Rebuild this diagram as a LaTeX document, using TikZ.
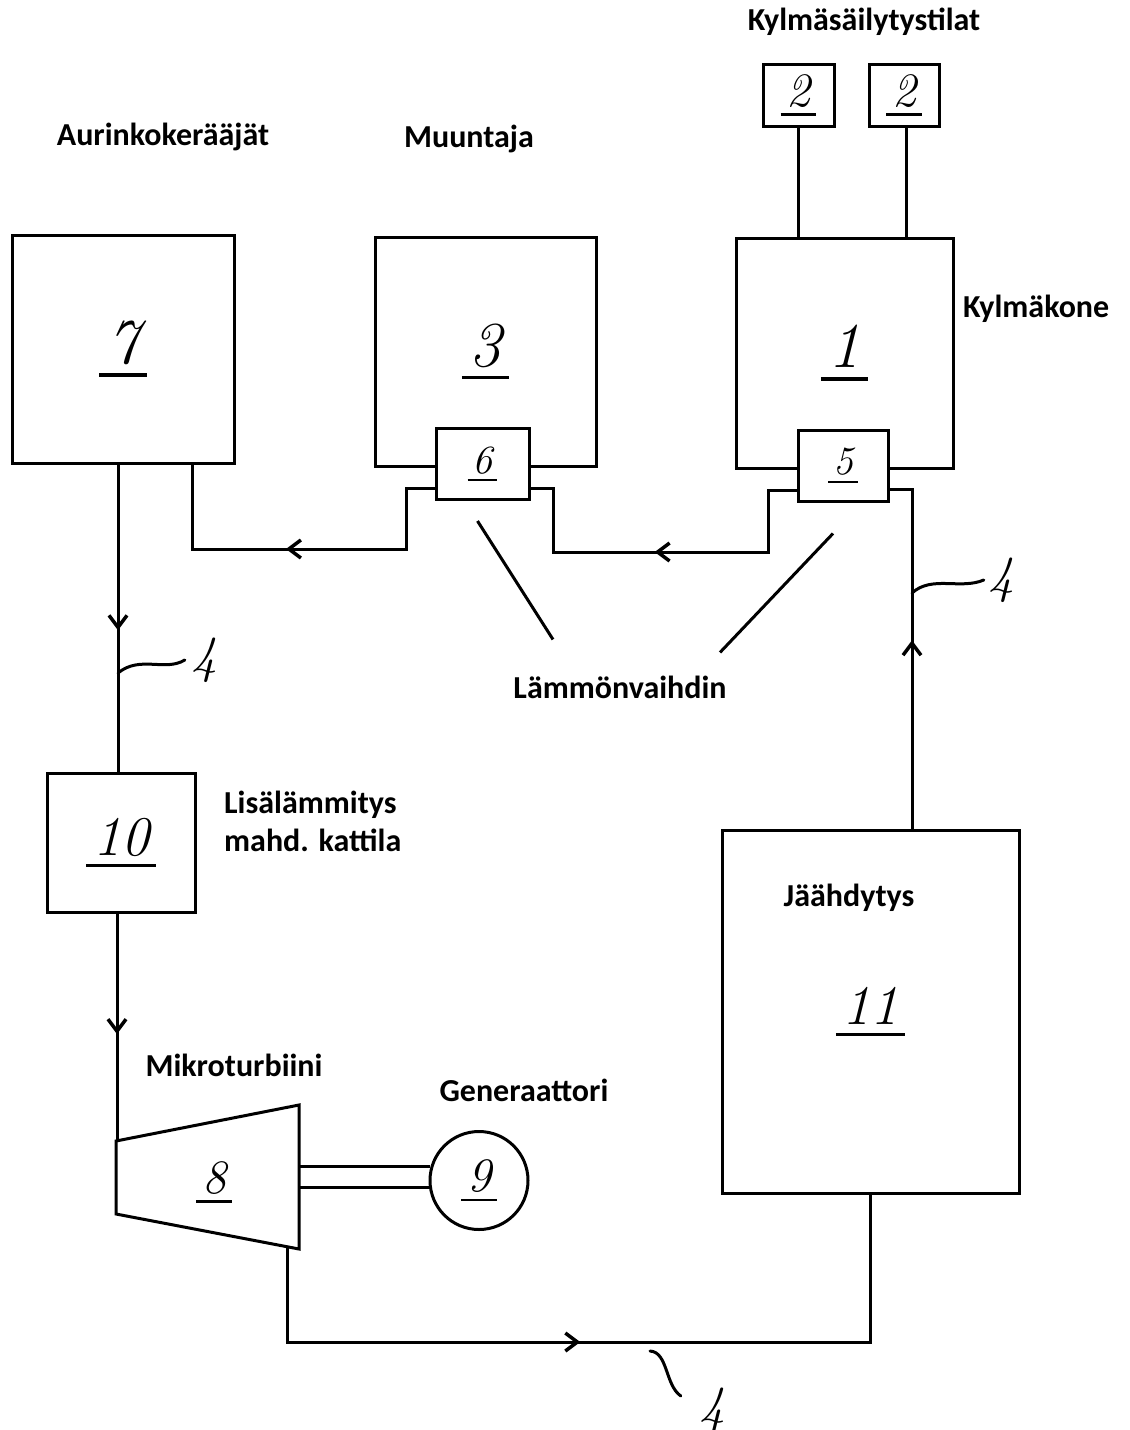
\documentclass[tikz,border=0pt]{standalone}
\usepackage{fontspec}
\newfontfamily\labelfont{Carlito}
\usetikzlibrary{arrows.meta,decorations.markings}
\newcommand{\nro}[2]{\fontsize{#1}{#1}\selectfont\itshape\sbox0{#2}%
\rlap{\hspace{-0.12em}\rule[-0.2em]{\dimexpr\wd0+0.24em\relax}{0.05em}}\box0}
\begin{document}
\begin{tikzpicture}[x=1pt,y=-1pt,
  box/.style={draw, line width=3pt, fill=white, inner sep=0pt},
  pipe/.style={line width=3pt},
  hand/.style={line width=3pt, line cap=round},
  lbl/.style={font=\labelfont\bfseries\fontsize{32}{38}\selectfont, inner sep=0pt},
  nelja/.style={font=\fontsize{52}{52}\selectfont\itshape, inner sep=0pt},
  flow/.style={postaction={decorate}, decoration={markings,
    mark=at position #1 with {\arrow{Straight Barb[length=12pt,width=18pt,line width=3.5pt]}}}}]
\useasboundingbox (0,0) rectangle (1130,1430);
\node[box, minimum width=222pt, minimum height=228pt] (aurinko) at (123,349) {\nro{64}{7}};
\node[box, minimum width=221pt, minimum height=229pt] (muuntaja) at (485.5,351.5) {\nro{64}{3}};
\node[box, minimum width=217pt, minimum height=230pt] (kylmakone) at (844.5,353) {\nro{64}{1}};
\node[box, minimum width=93pt, minimum height=71pt] (vaihdin6) at (482.5,464) {\nro{40}{6}};
\node[box, minimum width=90pt, minimum height=71pt] (vaihdin5) at (843,465.5) {\nro{40}{5}};
\node[box, minimum width=71pt, minimum height=62pt] (kylma1) at (798.5,95) {\nro{48}{2}};
\node[box, minimum width=70pt, minimum height=62pt] (kylma2) at (904,95) {\nro{48}{2}};
\node[box, minimum width=148pt, minimum height=139pt] (kattila) at (121,842.5) {\nro{56}{10}};
\node[box, minimum width=297pt, minimum height=363pt] (jaahdytys) at (870.5,1011.5) {\nro{56}{11}};
\node[box, circle, minimum size=98pt] (gen) at (479,1180.5) {\nro{48}{9}};
\draw[pipe] (116,1141) -- (299,1105) -- (299,1249) -- (116,1214) -- cycle;
\node (turbiini) at (214,1182) {\nro{48}{8}};
\coordinate (turbin) at (117,1141);
\coordinate (turbout) at (287,1247);
\coordinate (turbakseli) at (299,0);
\coordinate (pohja) at (0,1342);
\node[lbl] (kylmatilat) at (864,22) {Kylmäsäilytystilat};
\node[lbl] (aurinkolbl) at (163,137) {Aurinkokerääjät};
\node[lbl] (muuntajalbl) at (469,139) {Muuntaja};
\node[lbl, anchor=west] (kylmakonelbl) at (963,309) {Kylmäkone};
\node[lbl] (lammon) at (620,687) {Lämmönvaihdin};
\node[lbl, anchor=west, align=left] (lisalbl) at (224,821) {Lisälämmitys\\mahd. kattila};
\node[lbl] (jaahdlbl) at (849,898) {Jäähdytys};
\node[lbl] (turblbl) at (234,1065) {Mikroturbiini};
\node[lbl] (genlbl) at (524,1090) {Generaattori};
\node[nelja] (nelja1) at (204,660) {4};
\node[nelja] (nelja2) at (1001,580) {4};
\node[nelja] (nelja3) at (712,1410) {4};
\draw[pipe] (kylma1.south) -- (kylma1.south |- kylmakone.north);
\draw[pipe] ([xshift=2pt]kylma2.south) -- ([xshift=2pt]kylma2.south |- kylmakone.north);
\draw[pipe] (gen.164) -- (gen.164 -| turbakseli);
\draw[pipe] (gen.188) -- (gen.188 -| turbakseli);
\draw[pipe, flow=0.54] ([xshift=-5pt]aurinko.south) -- ([xshift=-5pt]aurinko.south |- kattila.north);
\draw[pipe, flow=0.53] (turbin |- kattila.south) -- (turbin);
\draw[pipe, flow=0.47] (turbout) |- (pohja -| jaahdytys.south) -- (jaahdytys.south);
\draw[pipe, flow=0.52] ([xshift=41.5pt]jaahdytys.north) |- ([yshift=-23.5pt]vaihdin5.east);
\draw[pipe, flow=0.52] ([yshift=-24.5pt]vaihdin5.west) -- ++(-28,0) -- ++(0,62) -- ++(-215,0) |- ([yshift=-24pt]vaihdin6.east);
\draw[pipe, flow=0.54] ([yshift=-24pt]vaihdin6.west) -- ++(-28,0) -- ++(0,61) -| ([xshift=69pt]aurinko.south);
\draw[pipe] ([shift={(-5,20)}]vaihdin6.south) -- ([shift={(-67,-36)}]lammon.north);
\draw[pipe] ([shift={(-10,31)}]vaihdin5.south) -- ([shift={(100,-23)}]lammon.north);
\draw[hand] (118,673) .. controls (140,655) and (165,672) .. ([xshift=-6pt]nelja1.west);
\draw[hand] (912,593) .. controls (932,575) and (960,590) .. ([xshift=-4pt]nelja2.west);
\draw[hand] (650,1351) .. controls (668,1352) and (665,1385) .. ([shift={(-18,-14)}]nelja3.west);
\end{tikzpicture}
\end{document}
